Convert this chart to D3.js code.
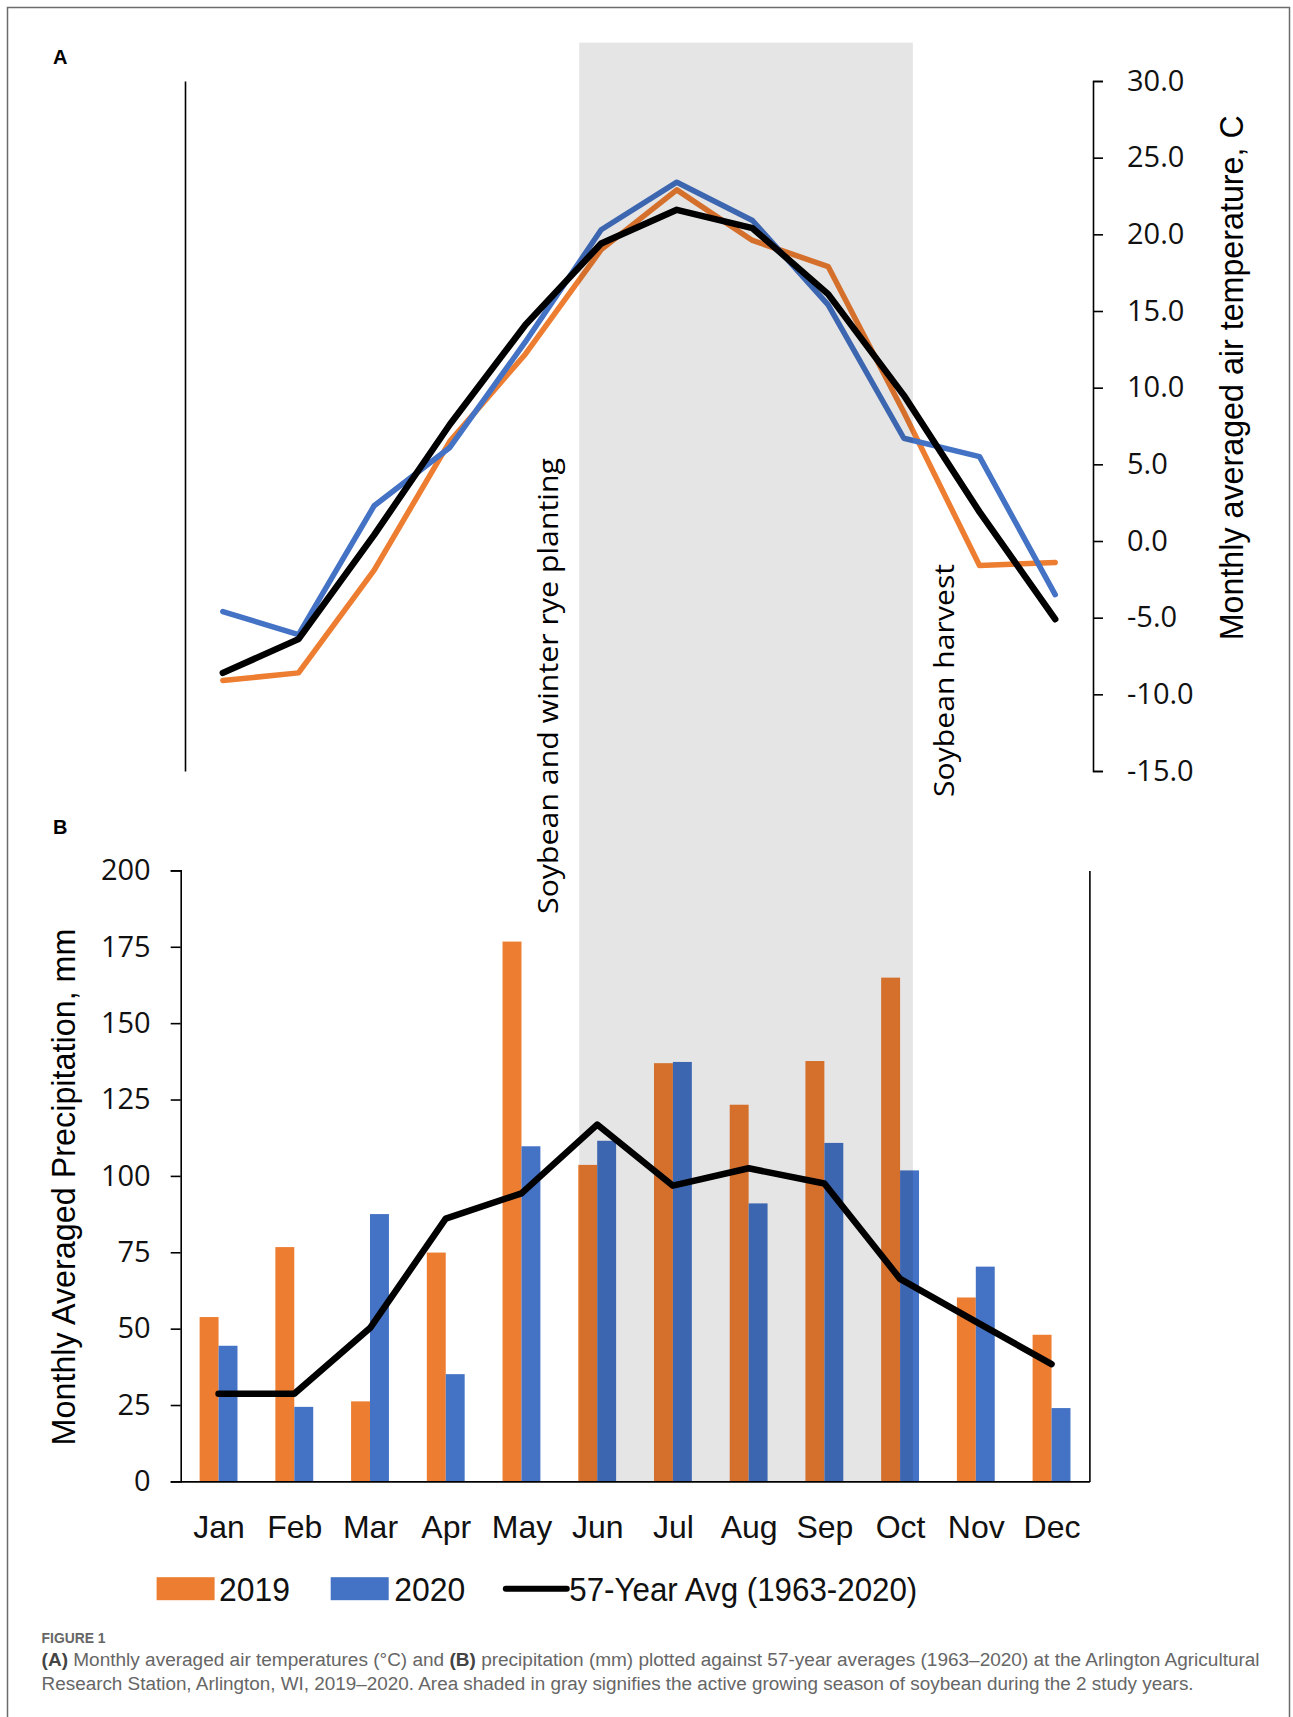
<!DOCTYPE html>
<html>
<head>
<meta charset="utf-8">
<script src="https://cdn.jsdelivr.net/npm/d3@7"></script>
<style>
  body { margin: 0; background: #fff; }
  svg { display: block; }
  .narrow { font-family: "Liberation Sans Narrow", "Liberation Sans", Roboto, sans-serif; }
  .segoe { font-family: "Open Sans", "Noto Sans", sans-serif; }
</style>
</head>
<body>
<svg id="chart" width="1293" height="1717"></svg>
<script>
// ---- data ----
const months = ["Jan", "Feb", "Mar", "Apr", "May", "Jun", "Jul", "Aug", "Sep", "Oct", "Nov", "Dec"];

// panel A: monthly mean air temperature, C
const temp2019 = [-9.1, -8.6, -1.9, 6.5, 12.2, 19.0, 22.9, 19.6, 17.9, 8.4, -1.6, -1.4];
const temp2020 = [-4.6, -6.1, 2.3, 6.1, 13.0, 20.3, 23.4, 20.9, 15.4, 6.7, 5.5, -3.5];
const tempAvg = [-8.6, -6.4, 0.4, 7.6, 14.1, 19.4, 21.6, 20.4, 16.1, 9.5, 1.9, -5.1];
const tempTicks = [30, 25, 20, 15, 10, 5, 0, -5, -10, -15];

// panel B: monthly precipitation, mm
const precip2019 = [53.8, 76.7, 26.2, 74.9, 176.7, 103.6, 136.9, 123.3, 137.6, 164.9, 60.2, 48.0];
const precip2020 = [44.4, 24.4, 87.5, 35.1, 109.7, 111.5, 137.3, 91.0, 110.8, 101.8, 70.3, 24.0];
const precipAvg = [28.7, 28.7, 50.2, 86.0, 94.3, 116.8, 96.8, 102.5, 97.5, 66.3, 52.3, 38.4];
const precipTicks = [0, 25, 50, 75, 100, 125, 150, 175, 200];

// shaded growing season, in month units (0 = start of Jan)
const growingSeason = [5.21, 9.62];
const seriesNames = ["2019", "2020", "57-Year Avg (1963-2020)"];
const colors = { y2019: "#ED7D31", y2020: "#4472C4", avg: "#000000" };

const svg = d3.select("#chart");

// figure frame
svg.append("path")
  .attr("d", "M7.5,1717 V7.5 H1289.5 V1717")
  .attr("fill", "none")
  .attr("stroke", "#6b6b6b")
  .attr("stroke-width", 1.5);

// ---- scales ----
const A = { left: 185, right: 1093, top: 81, bottom: 771 };
const B = { left: 180.7, right: 1089.4, top: 870.4, bottom: 1481.4 };

const xA = d3.scalePoint().domain(months).range([A.left, A.right]).padding(0.5);
const xAmonth = d3.scaleLinear().domain([0, 12]).range([A.left, A.right]);
const yT = d3.scaleLinear().domain([-15, 30]).range([A.bottom, A.top]);

const xB = d3.scaleBand().domain(months).range([B.left, B.right]).paddingInner(0.5).paddingOuter(0.25);
const xBstep = d3.scalePoint().domain(months).range([B.left, B.right]).padding(0.5);
const xSub = d3.scaleBand().domain(["y2019", "y2020"]).range([0, xB.bandwidth()]);
const yP = d3.scaleLinear().domain([0, 200]).range([B.bottom, B.top]);

// ---- panel A ----
const gA = svg.append("g");

gA.append("text").text("A")
  .attr("x", 53).attr("y", 64)
  .attr("font-family", "Liberation Sans, Arial, sans-serif")
  .attr("font-weight", "bold").attr("font-size", 20);

// plain left line (no ticks)
gA.append("g")
  .attr("transform", `translate(${A.left},0)`)
  .call(d3.axisLeft(yT).tickValues([]).tickSizeOuter(0))
  .call(g => g.select(".domain").attr("stroke-width", 1.6));

// right temperature axis
const axT = gA.append("g")
  .attr("transform", `translate(${A.right},0)`)
  .call(d3.axisRight(yT).tickValues(tempTicks).tickSize(10).tickPadding(24)
    .tickFormat(d => d.toFixed(1)));
axT.select(".domain").attr("stroke-width", 1.6);
axT.selectAll("line").attr("stroke-width", 1.6);
axT.selectAll("text")
  .attr("class", "segoe")
  .attr("font-size", 29)
  .attr("fill", "#111");

gA.append("text")
  .attr("class", "narrow")
  .attr("transform", `translate(1231.8,377.8) rotate(-90)`)
  .attr("text-anchor", "middle")
  .attr("dominant-baseline", "central")
  .attr("font-size", 33)
  .attr("textLength", 525)
  .attr("lengthAdjust", "spacingAndGlyphs")
  .text("Monthly averaged air temperature, C");

const lineA = d3.line().x((d, i) => xA(months[i])).y(d => yT(d));
[[temp2019, colors.y2019, 5.5], [temp2020, colors.y2020, 5.5], [tempAvg, colors.avg, 6.5]].forEach(([vals, col, w]) => {
  gA.append("path")
    .datum(vals)
    .attr("d", lineA)
    .attr("fill", "none")
    .attr("stroke", col)
    .attr("stroke-width", w)
    .attr("stroke-linejoin", "round")
    .attr("stroke-linecap", "round");
});

// ---- panel B ----
const gB = svg.append("g");

gB.append("text").text("B")
  .attr("x", 53).attr("y", 834)
  .attr("font-family", "Liberation Sans, Arial, sans-serif")
  .attr("font-weight", "bold").attr("font-size", 20);

const axP = gB.append("g")
  .attr("transform", `translate(${B.left},0)`)
  .call(d3.axisLeft(yP).tickValues(precipTicks).tickSize(10).tickPadding(20));
axP.select(".domain").attr("stroke-width", 1.6);
axP.selectAll("line").attr("stroke-width", 1.6);
axP.selectAll("text")
  .attr("class", "segoe")
  .attr("font-size", 29)
  .attr("fill", "#111");

gB.append("g")
  .attr("transform", `translate(${B.right},0)`)
  .call(d3.axisRight(yP).tickValues([]).tickSizeOuter(0))
  .call(g => g.select(".domain").attr("stroke-width", 1.6));

gB.append("text")
  .attr("class", "narrow")
  .attr("transform", `translate(63.5,1187) rotate(-90)`)
  .attr("text-anchor", "middle")
  .attr("dominant-baseline", "central")
  .attr("font-size", 33)
  .attr("textLength", 517)
  .attr("lengthAdjust", "spacingAndGlyphs")
  .text("Monthly Averaged Precipitation, mm");

const barRows = months.map((m, i) => ({ m, y2019: precip2019[i], y2020: precip2020[i] }));
gB.append("g")
  .selectAll("g")
  .data(barRows)
  .join("g")
  .attr("transform", d => `translate(${xB(d.m)},0)`)
  .selectAll("rect")
  .data(d => ["y2019", "y2020"].map(k => ({ k, v: d[k] })))
  .join("rect")
  .attr("x", d => xSub(d.k))
  .attr("width", xSub.bandwidth())
  .attr("y", d => yP(d.v))
  .attr("height", d => yP(0) - yP(d.v))
  .attr("fill", d => colors[d.k]);

const axM = gB.append("g")
  .attr("transform", `translate(0,${B.bottom})`)
  .call(d3.axisBottom(xBstep).tickSize(0).tickSizeOuter(0));
axM.select(".domain").attr("stroke-width", 1.6);
axM.selectAll("text")
  .attr("class", "narrow")
  .attr("font-size", 32)
  .attr("fill", "#111")
  .attr("y", 45)
  .attr("dy", "0.35em");

gB.append("path")
  .datum(precipAvg)
  .attr("d", d3.line().x((d, i) => xBstep(months[i])).y(d => yP(d)))
  .attr("fill", "none")
  .attr("stroke", colors.avg)
  .attr("stroke-width", 6.5)
  .attr("stroke-linejoin", "round")
  .attr("stroke-linecap", "round");

// shaded growing season over both panels
svg.append("rect")
  .attr("x", xAmonth(growingSeason[0]))
  .attr("width", xAmonth(growingSeason[1]) - xAmonth(growingSeason[0]))
  .attr("y", yT(32.5))
  .attr("height", yP(0) - yT(32.5))
  .attr("fill", "#000")
  .attr("fill-opacity", 0.1);

// event annotations
svg.append("text")
  .attr("class", "segoe")
  .attr("transform", "translate(547.5,686) rotate(-90)")
  .attr("text-anchor", "middle")
  .attr("dominant-baseline", "central")
  .attr("font-size", 27)
  .attr("textLength", 456)
  .attr("lengthAdjust", "spacingAndGlyphs")
  .text("Soybean and winter rye planting");

svg.append("text")
  .attr("class", "segoe")
  .attr("transform", "translate(943.8,680.5) rotate(-90)")
  .attr("text-anchor", "middle")
  .attr("dominant-baseline", "central")
  .attr("font-size", 27)
  .attr("textLength", 233)
  .attr("lengthAdjust", "spacingAndGlyphs")
  .text("Soybean harvest");

// ---- legend ----
const leg = svg.append("g").attr("transform", "translate(0,1588.7)");
const legItems = [
  { name: seriesNames[0], kind: "rect", color: colors.y2019, x0: 156.6, tx: 219, len: 71 },
  { name: seriesNames[1], kind: "rect", color: colors.y2020, x0: 330.7, tx: 394.2, len: 71 },
  { name: seriesNames[2], kind: "line", color: colors.avg, x0: 505.8, tx: 569.3, len: 348 }
];
legItems.forEach(it => {
  if (it.kind === "rect") {
    leg.append("rect").attr("x", it.x0).attr("y", -11.5).attr("width", 58).attr("height", 23).attr("fill", it.color);
  } else {
    leg.append("line").attr("x1", it.x0).attr("x2", it.x0 + 61).attr("stroke", it.color)
      .attr("stroke-width", 6).attr("stroke-linecap", "round");
  }
  leg.append("text")
    .attr("class", "narrow")
    .attr("x", it.tx)
    .attr("dominant-baseline", "central")
    .attr("font-size", 34)
    .attr("fill", "#111")
    .attr("textLength", it.len)
    .attr("lengthAdjust", "spacingAndGlyphs")
    .text(it.name);
});

// ---- caption ----
const cap = svg.append("g").attr("class", "narrow");
cap.append("text")
  .attr("x", 41.6).attr("y", 1643)
  .attr("font-size", 15).attr("font-weight", "bold").attr("fill", "#666")
  .attr("textLength", 64).attr("lengthAdjust", "spacingAndGlyphs")
  .text("FIGURE 1");

const l1 = cap.append("text")
  .attr("x", 41.6).attr("y", 1666)
  .attr("font-size", 18).attr("fill", "#666")
  .attr("textLength", 1218).attr("lengthAdjust", "spacingAndGlyphs");
l1.append("tspan").attr("font-weight", "bold").attr("fill", "#444").text("(A)");
l1.append("tspan").text(" Monthly averaged air temperatures (°C) and ");
l1.append("tspan").attr("font-weight", "bold").attr("fill", "#444").text("(B)");
l1.append("tspan").text(" precipitation (mm) plotted against 57-year averages (1963\u20132020) at the Arlington Agricultural");

cap.append("text")
  .attr("x", 41.6).attr("y", 1690)
  .attr("font-size", 18).attr("fill", "#666")
  .attr("textLength", 1152).attr("lengthAdjust", "spacingAndGlyphs")
  .text("Research Station, Arlington, WI, 2019\u20132020. Area shaded in gray signifies the active growing season of soybean during the 2 study years.");
</script>
</body>
</html>
